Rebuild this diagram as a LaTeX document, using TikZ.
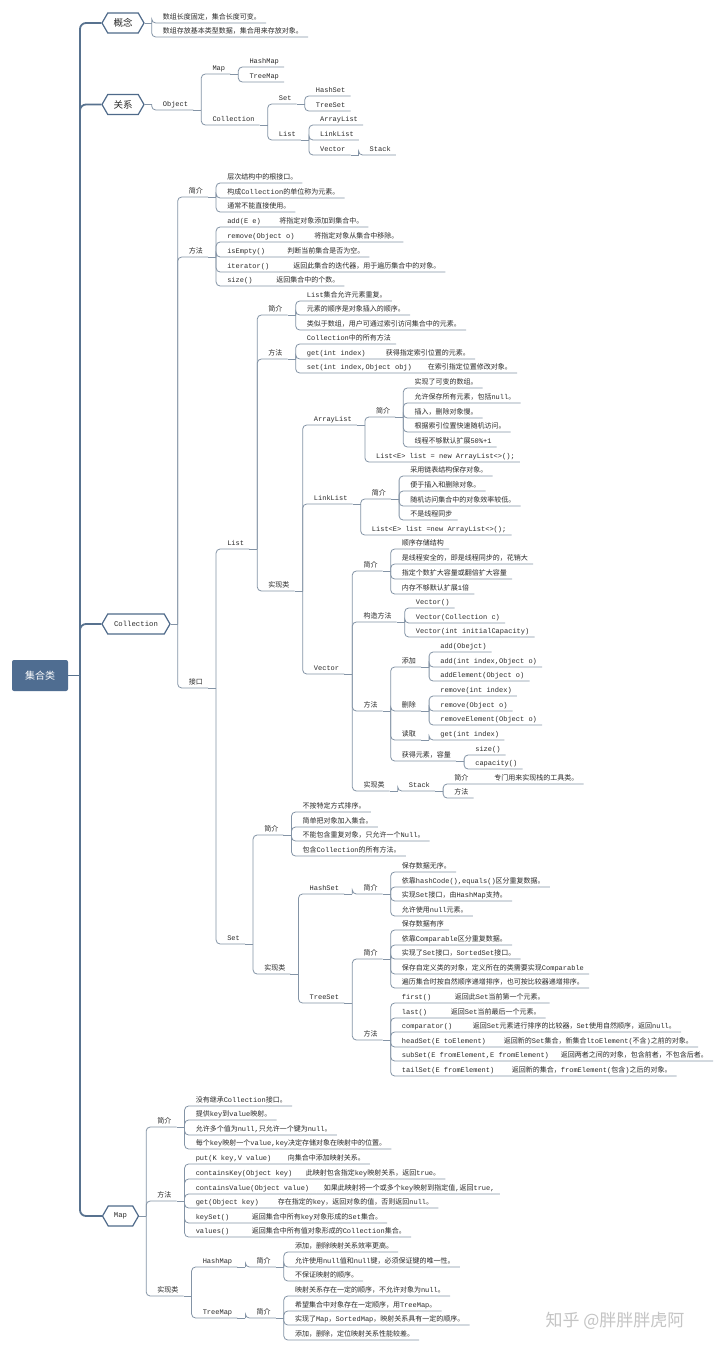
\documentclass[tikz,border=0pt]{standalone}
\usepackage{fontspec}
\setmainfont{Liberation Mono}
\newfontfamily\cjkf{Noto Sans CJK SC}
\newfontfamily\latf{Liberation Mono}
\usetikzlibrary{shapes.symbols,calc}
\XeTeXinterchartokenstate=1
\chardef\cjkcls=10
\makeatletter
\def\setcls#1#2{\count@=#1\relax\loop\XeTeXcharclass\count@=\cjkcls\relax\ifnum\count@<#2\relax\advance\count@\@ne\repeat}
\setcls{"4E00}{"9FFF}
\setcls{"3000}{"303F}
\setcls{"FF00}{"FFEF}
\makeatother
\XeTeXinterchartoks 0 \cjkcls = {\cjkf}
\XeTeXinterchartoks 4095 \cjkcls = {\cjkf}
\XeTeXinterchartoks \cjkcls 0 = {\latf}
\XeTeXinterchartoks \cjkcls 4095 = {\latf}
\definecolor{txt}{HTML}{2A2A2A}
\definecolor{linec}{HTML}{8494A6}
\definecolor{mainc}{HTML}{58728F}
\definecolor{hexc}{HTML}{4F6A8A}
\definecolor{rootc}{HTML}{4F6D91}
\definecolor{wmc}{HTML}{C4C4C4}
\newcommand\fsz{\fontsize{7pt}{8pt}\selectfont}
\newcommand\stub[1]{\draw[cn] (#1.south east) -- ++(8,0) coordinate (#1-s);}
\newcommand\kid[4]{\node[tp] (#2) at (#1-s |- 0,#3) {#4}; \draw[cn] (#1-s) |- (#2.south east);}
\begin{document}
\begin{tikzpicture}[x=1pt,y=-1pt,
 tp/.style={anchor=south west, inner sep=0pt, text height=7pt, text depth=3pt, font=\fsz, text=txt,
   execute at begin node={\hspace*{11pt}}, execute at end node={\hspace*{5pt}}},
 cn/.style={draw=linec, line width=0.8pt, rounded corners=4pt},
 mainln/.style={draw=mainc, line width=1.8pt, rounded corners=6pt},
 hex/.style={shape=signal, signal to=east and west, signal pointer angle=120, draw=hexc,
   line width=1.2pt, fill=white, minimum height=20pt, inner xsep=2pt, inner ysep=0pt, text=txt},
 root/.style={rectangle, rounded corners=2pt, fill=rootc, minimum width=56pt, minimum height=31pt,
   text=white, font=\fontsize{10pt}{12pt}\selectfont},
 wm/.style={text=wmc, font={\XeTeXinterchartokenstate=0 \cjkf\fontsize{17pt}{20pt}\selectfont}}
]
\useasboundingbox (0,0) rectangle (720,1351);
\fill[white] (0,0) rectangle (720,1351);

% root and main branches
\node[root] (root) at (40,675.5) {集合类};
\node[hex, minimum width=42pt, font=\fontsize{9.5pt}{11pt}\selectfont] (gn) at (123,23) {概念};
\node[hex, minimum width=42pt, font=\fontsize{9.5pt}{11pt}\selectfont] (gx) at (123,104.5) {关系};
\node[hex, minimum width=68pt, font=\fontsize{7.3pt}{9pt}\selectfont] (col) at (136,624) {Collection};
\node[hex, minimum width=36pt, font=\fontsize{7.3pt}{9pt}\selectfont] (map) at (120.5,1216) {Map};
\draw[mainln] (root.east) -- (80,675.5) coordinate (ms);
\draw[mainln] (ms) |- (gn.west);
\draw[mainln] (ms) |- (gx.west);
\draw[mainln] (ms) |- (col.west);
\draw[mainln] (ms) |- (map.west);

% 概念
\draw[cn] (gn.east) -- ++(7,0) coordinate (gn-s);
\kid{gn}{g1}{23}{数组长度固定，集合长度可变。}
\kid{gn}{g2}{37}{数组存放基本类型数据，集合用来存放对象。}

% 关系
\draw[cn] (gx.east) -- ++(7,0) coordinate (gx-s);
\kid{gx}{obj}{110}{Object} \stub{obj}
\kid{obj}{omap}{74}{Map} \stub{omap}
\kid{omap}{ohm}{67}{HashMap}
\kid{omap}{otm}{82}{TreeMap}
\kid{obj}{ocol}{125}{Collection} \stub{ocol}
\kid{ocol}{oset}{104}{Set} \stub{oset}
\kid{oset}{ohs}{96}{HashSet}
\kid{oset}{ots}{111}{TreeSet}
\kid{ocol}{olist}{140}{List} \stub{olist}
\kid{olist}{oal}{125}{ArrayList}
\kid{olist}{oll}{140}{LinkList}
\kid{olist}{ovec}{155}{Vector} \stub{ovec}
\kid{ovec}{ostk}{155}{Stack}

% Collection
\draw[cn] (col.east) -- ++(7,0) coordinate (col-s);
\kid{col}{cjj}{197}{简介} \stub{cjj}
\kid{cjj}{c1}{183}{层次结构中的根接口。}
\kid{cjj}{c2}{198}{构成Collection的单位称为元素。}
\kid{cjj}{c3}{212}{通常不能直接使用。}
\kid{col}{cff}{257}{方法} \stub{cff}
\kid{cff}{cf1}{227}{\makebox[52pt][l]{add(E e)}将指定对象添加到集合中。}
\kid{cff}{cf2}{242}{\makebox[87pt][l]{remove(Object o)}将指定对象从集合中移除。}
\kid{cff}{cf3}{257}{\makebox[60pt][l]{isEmpty()}判断当前集合是否为空。}
\kid{cff}{cf4}{272}{\makebox[66pt][l]{iterator()}返回此集合的迭代器，用于遍历集合中的对象。}
\kid{cff}{cf5}{286}{\makebox[49pt][l]{size()}返回集合中的个数。}
\kid{col}{cjk}{688}{接口} \stub{cjk}

% List
\kid{cjk}{list}{549}{List} \stub{list}
\kid{list}{ljj}{315}{简介} \stub{ljj}
\kid{ljj}{l1}{301}{List集合允许元素重复。}
\kid{ljj}{l2}{315}{元素的顺序是对象插入的顺序。}
\kid{ljj}{l3}{330}{类似于数组，用户可通过索引访问集合中的元素。}
\kid{list}{lff}{359}{方法} \stub{lff}
\kid{lff}{lf1}{344}{Collection中的所有方法}
\kid{lff}{lf2}{359}{\makebox[79pt][l]{get(int index)}获得指定索引位置的元素。}
\kid{lff}{lf3}{373}{\makebox[121pt][l]{set(int index,Object obj)}在索引指定位置修改对象。}
\kid{list}{lsx}{591}{实现类} \stub{lsx}
\kid{lsx}{al}{425}{ArrayList} \stub{al}
\kid{al}{aljj}{417}{简介} \stub{aljj}
\kid{aljj}{a1}{388}{实现了可变的数组。}
\kid{aljj}{a2}{403}{允许保存所有元素，包括null。}
\kid{aljj}{a3}{418}{插入，删除对象慢。}
\kid{aljj}{a4}{432}{根据索引位置快速随机访问。}
\kid{aljj}{a5}{447}{线程不够默认扩展50\%+1}
\kid{al}{a6}{462}{List<E> list = new ArrayList<>();}
\kid{lsx}{ll}{504}{LinkList} \stub{ll}
\kid{ll}{lljj}{499}{简介} \stub{lljj}
\kid{lljj}{k1}{476}{采用链表结构保存对象。}
\kid{lljj}{k2}{491}{便于插入和删除对象。}
\kid{lljj}{k3}{506}{随机访问集合中的对象效率较低。}
\kid{lljj}{k4}{520}{不是线程同步}
\kid{ll}{k5}{535}{List<E> list =new ArrayList<>();}
\kid{lsx}{vec}{674}{Vector} \stub{vec}
\kid{vec}{vjj}{571}{简介} \stub{vjj}
\kid{vjj}{v1}{549}{顺序存储结构}
\kid{vjj}{v2}{564}{是线程安全的，即是线程同步的，花销大}
\kid{vjj}{v3}{579}{指定个数扩大容量或翻倍扩大容量}
\kid{vjj}{v4}{594}{内存不够默认扩展1倍}
\kid{vec}{vgz}{622}{构造方法} \stub{vgz}
\kid{vgz}{g1x}{608}{Vector()}
\kid{vgz}{g2x}{623}{Vector(Collection c)}
\kid{vgz}{g3x}{637}{Vector(int initialCapacity)}
\kid{vec}{vff}{711}{方法} \stub{vff}
\kid{vff}{vadd}{667}{添加} \stub{vadd}
\kid{vadd}{d1}{652}{add(Obejct)}
\kid{vadd}{d2}{667}{add(int index,Object o)}
\kid{vadd}{d3}{681}{addElement(Object o)}
\kid{vff}{vdel}{711}{删除} \stub{vdel}
\kid{vdel}{e1}{696}{remove(int index)}
\kid{vdel}{e2}{711}{remove(Object o)}
\kid{vdel}{e3}{725}{removeElement(Object o)}
\kid{vff}{vrd}{740}{读取} \stub{vrd}
\kid{vrd}{r1}{740}{get(int index)}
\kid{vff}{vget}{761}{获得元素，容量} \stub{vget}
\kid{vget}{s1}{755}{size()}
\kid{vget}{s2}{769}{capacity()}
\kid{vec}{vsx}{791}{实现类} \stub{vsx}
\kid{vsx}{stk}{791}{Stack} \stub{stk}
\kid{stk}{stjj}{784}{\makebox[40pt][l]{简介}专门用来实现栈的工具类。}
\kid{stk}{stff}{798}{方法}

% Set
\kid{cjk}{set}{944}{Set} \stub{set}
\kid{set}{sjj}{835}{简介} \stub{sjj}
\kid{sjj}{t1}{812}{不按特定方式排序。}
\kid{sjj}{t2}{827}{简单把对象加入集合。}
\kid{sjj}{t3}{841}{不能包含重复对象，只允许一个Null。}
\kid{sjj}{t4}{856}{包含Collection的所有方法。}
\kid{set}{ssx}{974}{实现类} \stub{ssx}
\kid{ssx}{hs}{894}{HashSet} \stub{hs}
\kid{hs}{hsjj}{894}{简介} \stub{hsjj}
\kid{hsjj}{h1}{872}{保存数据无序。}
\kid{hsjj}{h2}{887}{依靠hashCode(),equals()区分重复数据。}
\kid{hsjj}{h3}{901}{实现Set接口，由HashMap支持。}
\kid{hsjj}{h4}{916}{允许使用null元素。}
\kid{ssx}{ts}{1003}{TreeSet} \stub{ts}
\kid{ts}{tsjj}{959}{简介} \stub{tsjj}
\kid{tsjj}{u1}{930}{保存数据有序}
\kid{tsjj}{u2}{945}{依靠Comparable区分重复数据。}
\kid{tsjj}{u3}{959}{实现了Set接口，SortedSet接口。}
\kid{tsjj}{u4}{974}{保存自定义类的对象，定义所在的类需要实现Comparable}
\kid{tsjj}{u5}{988}{遍历集合时按自然顺序递增排序，也可按比较器递增排序。}
\kid{ts}{tsff}{1040}{方法} \stub{tsff}
\kid{tsff}{w1}{1003}{\makebox[53pt][l]{first()}返回此Set当前第一个元素。}
\kid{tsff}{w2}{1018}{\makebox[49pt][l]{last()}返回Set当前最后一个元素。}
\kid{tsff}{w3}{1032}{\makebox[71pt][l]{comparator()}返回Set元素进行排序的比较器，Set使用自然顺序，返回null。}
\kid{tsff}{w4}{1047}{\makebox[102pt][l]{headSet(E toElement)}返回新的Set集合，新集合ltoElement(不含)之前的对象。}
\kid{tsff}{w5}{1061}{\makebox[159pt][l]{subSet(E fromElement,E fromElement)}返回两者之间的对象，包含前者，不包含后者。}
\kid{tsff}{w6}{1076}{\makebox[110pt][l]{tailSet(E fromElement)}返回新的集合，fromElement(包含)之后的对象。}

% Map
\draw[cn] (map.east) -- ++(7,0) coordinate (map-s);
\kid{map}{mjj}{1127}{简介} \stub{mjj}
\kid{mjj}{m1}{1106}{没有继承Collection接口。}
\kid{mjj}{m2}{1120}{提供key到value映射。}
\kid{mjj}{m3}{1135}{允许多个值为null,只允许一个键为null。}
\kid{mjj}{m4}{1149}{每个key映射一个value,key决定存储对象在映射中的位置。}
\kid{map}{mff}{1201}{方法} \stub{mff}
\kid{mff}{n1}{1164}{\makebox[92pt][l]{put(K key,V value)}向集合中添加映射关系。}
\kid{mff}{n2}{1179}{\makebox[110pt][l]{containsKey(Object key)}此映射包含指定key映射关系，返回true。}
\kid{mff}{n3}{1194}{\makebox[128pt][l]{containsValue(Object value)}如果此映射将一个或多个key映射到指定值,返回true,}
\kid{mff}{n4}{1208}{\makebox[82pt][l]{get(Object key)}存在指定的key，返回对象的值，否则返回null。}
\kid{mff}{n5}{1223}{\makebox[56pt][l]{keySet()}返回集合中所有key对象形成的Set集合。}
\kid{mff}{n6}{1237}{\makebox[56pt][l]{values()}返回集合中所有值对象形成的Collection集合。}
\kid{map}{msx}{1296}{实现类} \stub{msx}
\kid{msx}{mhm}{1267}{HashMap} \stub{mhm}
\kid{mhm}{mhj}{1267}{简介} \stub{mhj}
\kid{mhj}{p1}{1252}{添加，删除映射关系效率更高。}
\kid{mhj}{p2}{1267}{允许使用null值和null键，必须保证键的唯一性。}
\kid{mhj}{p3}{1281}{不保证映射的顺序。}
\kid{msx}{mtm}{1318}{TreeMap} \stub{mtm}
\kid{mtm}{mtj}{1318}{简介} \stub{mtj}
\kid{mtj}{q1}{1296}{映射关系存在一定的顺序，不允许对象为null。}
\kid{mtj}{q2}{1311}{希望集合中对象存在一定顺序，用TreeMap。}
\kid{mtj}{q3}{1325}{实现了Map，SortedMap，映射关系具有一定的顺序。}
\kid{mtj}{q4}{1340}{添加，删除，定位映射关系性能较差。}

% watermark
\node[wm] (wmk) at (615,1321) {知乎 @胖胖胖虎阿};
\end{tikzpicture}
\end{document}
